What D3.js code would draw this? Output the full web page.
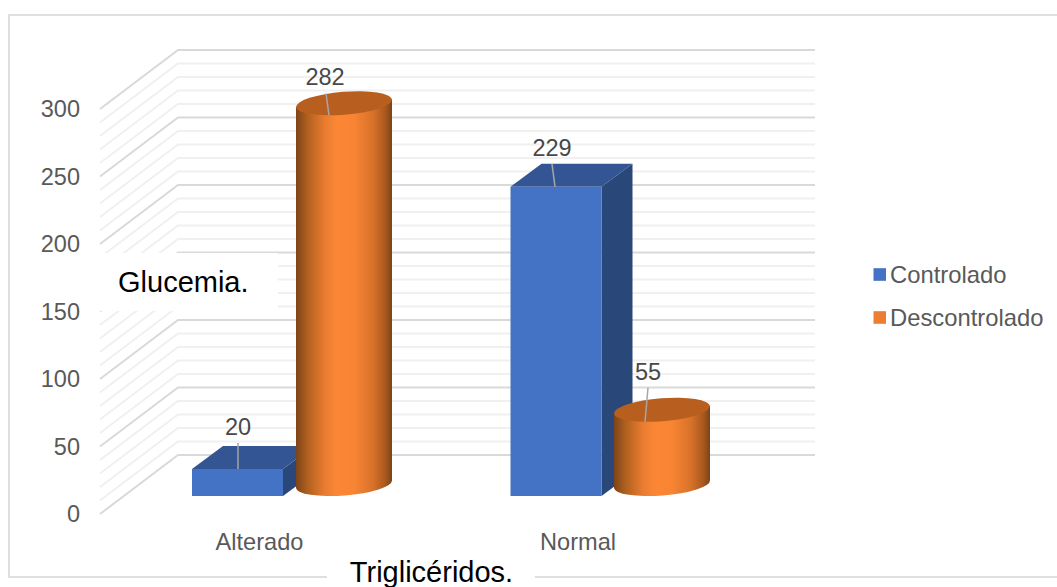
<!DOCTYPE html>
<html>
<head>
<meta charset="utf-8">
<script src="https://cdn.jsdelivr.net/npm/d3@7"></script>
<style>
html,body{margin:0;padding:0;background:#fff;overflow:hidden}
svg{display:block}
text{font-family:"Liberation Sans",Arial,sans-serif}
</style>
</head>
<body>
<svg id="chart" width="1057" height="587"></svg>
<script>
// Chart values
const categories = ["Alterado", "Normal"];
const seriesNames = ["Controlado", "Descontrolado"];
const controlado = [20, 229];
const descontrolado = [282, 55];
const tickValues = [0, 50, 100, 150, 200, 250, 300];
const minorValues = d3.range(0, 301, 10);
const titleX = "Triglicéridos.";
const titleY = "Glucemia.";

const svg = d3.select("#chart");

// Projection of the 3D box: wall scale, front-of-floor scale, value heights
const yBack = d3.scaleLinear().domain([0, 300]).range([455, 50]);
const yFront = d3.scaleLinear().domain([0, 300]).range([514, 109]);
const height = d3.scaleLinear().domain([0, 300]).range([0, 405]);
const wallLeft = 178, wallRight = 815, floorLeft = 100;

const barBaseY = 496;
const barDepth = {dx: 31, dy: -23};
const barX = d3.scaleOrdinal().domain(categories).range([192, 510.5]);
const barW = 91;
const cylX = d3.scaleOrdinal().domain(categories).range([296, 614]);
const cylW = 96;
const cylCenterBase = 484, cylRy = 11.5, cylTilt = -4.5;

const palette = {
  blue: "#4472c4", blueTop: "#335593", blueSide: "#2a4779",
  orange: "#ed7d31", orangeTop: "#b85f20"
};

const defs = svg.append("defs");
const grad = defs.append("linearGradient").attr("id", "cyl").attr("x1", 0).attr("x2", 1).attr("y1", 0).attr("y2", 0);
[[0, "#7d4419"], [0.12, "#b0601f"], [0.3, "#e97c30"], [0.42, "#fb8735"], [0.6, "#f98534"], [0.8, "#d87229"], [0.93, "#a9591f"], [1, "#7a4318"]]
  .forEach(([o, c]) => grad.append("stop").attr("offset", o).attr("stop-color", c));

// Chart frame, whose right edge runs past the page
svg.append("rect").attr("x", 9).attr("y", 15).attr("width", 1060).attr("height", 562)
  .attr("fill", "#fff").attr("stroke", "#dcdcdc").attr("stroke-width", 1.8);

// Wall and side gridlines, minor first so that major lines sit on top
const isMajor = v => v % 50 === 0;
const grid = svg.append("g").attr("fill", "none");
const ordered = minorValues.slice().sort((a, b) => isMajor(a) - isMajor(b));
grid.selectAll("path").data(ordered).join("path")
  .attr("d", v => `M${floorLeft},${yFront(v)}L${wallLeft},${yBack(v)}L${wallRight},${yBack(v)}`)
  .attr("stroke", v => isMajor(v) ? "#d9d9d9" : "#f0f0f0")
  .attr("stroke-width", 2);

// Value axis labels
svg.append("g").selectAll("text").data(tickValues).join("text")
  .attr("x", 80).attr("y", v => yFront(v)).attr("dy", "0.35em")
  .attr("text-anchor", "end").attr("font-size", 23.5).attr("fill", "#595959")
  .text(d => d);

// Blue 3D columns
const bars = svg.append("g").selectAll("g")
  .data(categories.map((c, i) => ({c, v: controlado[i]}))).join("g");
bars.append("path").attr("fill", palette.blueSide).attr("d", d => {
  const x = barX(d.c) + barW, t = barBaseY - height(d.v);
  return `M${x},${barBaseY}L${x + barDepth.dx},${barBaseY + barDepth.dy}L${x + barDepth.dx},${t + barDepth.dy}L${x},${t}Z`;
});
bars.append("path").attr("fill", palette.blueTop).attr("d", d => {
  const x = barX(d.c), t = barBaseY - height(d.v);
  return `M${x},${t}L${x + barDepth.dx},${t + barDepth.dy}L${x + barW + barDepth.dx},${t + barDepth.dy}L${x + barW},${t}Z`;
});
bars.append("rect").attr("fill", palette.blue)
  .attr("x", d => barX(d.c)).attr("width", barW)
  .attr("y", d => barBaseY - height(d.v)).attr("height", d => height(d.v));

// Orange cylinders with tilted elliptical ends
const tiltRad = cylTilt * Math.PI / 180;
const cyls = svg.append("g").selectAll("g")
  .data(categories.map((c, i) => ({c, v: descontrolado[i]}))).join("g");
cyls.append("path").attr("fill", "url(#cyl)").attr("d", d => {
  const rx = cylW / 2, cx = cylX(d.c) + rx, dy = rx * Math.tan(tiltRad);
  const top = cylCenterBase - height(d.v);
  return `M${cx - rx},${top - dy}L${cx - rx},${cylCenterBase - dy}` +
    `A${rx},${cylRy} ${cylTilt} 0 0 ${cx + rx},${cylCenterBase + dy}` +
    `L${cx + rx},${top + dy}Z`;
});
cyls.append("ellipse").attr("fill", palette.orangeTop)
  .attr("rx", cylW / 2).attr("ry", cylRy)
  .attr("transform", d => `translate(${cylX(d.c) + cylW / 2},${cylCenterBase - height(d.v)}) rotate(${cylTilt})`);

// Data labels with their leader lines; offsets are relative to each mark
const labels = [
  {v: controlado[0], tx: barX(categories[0]) + 46, ty: barBaseY - height(controlado[0]), lx: 0, ly: -26, tlx: 0},
  {v: descontrolado[0], tx: cylX(categories[0]) + 33, ty: cylCenterBase - height(descontrolado[0]) + 12, lx: -3, ly: -22, tlx: -4},
  {v: controlado[1], tx: barX(categories[1]) + 44.5, ty: barBaseY - height(controlado[1]), lx: -3, ly: -23, tlx: -3},
  {v: descontrolado[1], tx: cylX(categories[1]) + 31, ty: cylCenterBase - height(descontrolado[1]) + 12, lx: 3, ly: -34, tlx: 3}
];
const lab = svg.append("g").selectAll("g").data(labels).join("g");
lab.append("line")
  .attr("x1", d => d.tx).attr("y1", d => d.ty)
  .attr("x2", d => d.tx + d.lx).attr("y2", d => d.ty + d.ly)
  .attr("stroke", "#a6a6a6").attr("stroke-width", 1.5);
lab.append("text")
  .attr("x", d => d.tx + d.tlx).attr("y", d => d.ty + d.ly - 8)
  .attr("text-anchor", "middle").attr("font-size", 23.5).attr("fill", "#484848")
  .text(d => d.v);

// Category labels
svg.append("g").selectAll("text").data(categories).join("text")
  .attr("x", c => barX(c) + 67.5).attr("y", 550)
  .attr("text-anchor", "middle").attr("font-size", 23.6).attr("fill", "#595959")
  .text(c => c);

// Legend
const legend = svg.append("g").selectAll("g").data(seriesNames).join("g")
  .attr("transform", (d, i) => `translate(873.5,${274.5 + i * 43})`);
legend.append("rect").attr("x", 0).attr("y", -6.3).attr("width", 12.5).attr("height", 12.6)
  .attr("fill", (d, i) => i ? palette.orange : palette.blue);
legend.append("text").attr("x", 16.5).attr("dy", "0.35em")
  .attr("font-size", 23.8).attr("fill", "#595959").text(d => d);

// Axis titles on white plates
svg.append("rect").attr("x", 100).attr("y", 253).attr("width", 178).attr("height", 58).attr("fill", "#fff");
svg.append("text").attr("x", 118).attr("y", 291.5).attr("font-size", 29).attr("fill", "#000").text(titleY);
svg.append("rect").attr("x", 327).attr("y", 560).attr("width", 208).attr("height", 27).attr("fill", "#fff");
svg.append("text").attr("x", 431.5).attr("y", 581.5).attr("text-anchor", "middle").attr("font-size", 29).attr("fill", "#000").text(titleX);
</script>
</body>
</html>
